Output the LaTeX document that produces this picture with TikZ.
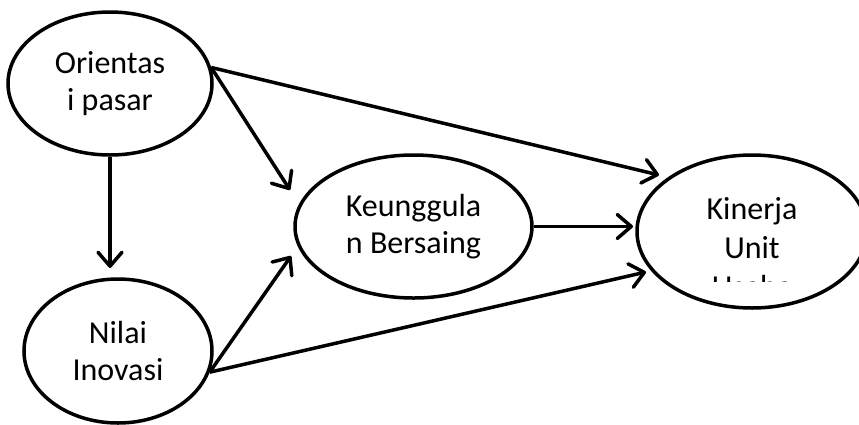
\documentclass[tikz,border=0pt]{standalone}
\usepackage{fontspec}
\setmainfont{Carlito}
\usetikzlibrary{arrows.meta,shapes.geometric}
\begin{document}
\begin{tikzpicture}[x=1pt,y=-1pt,
  oval/.style={ellipse,draw,line width=3.5pt,inner sep=0pt},
  lbl/.style={align=center,font=\fontsize{32}{37.5}\selectfont,inner sep=0pt},
  conn/.style={line width=3.5pt,-{Straight Barb[length=14pt,width=24pt,line cap=round,line join=round]}}]
\useasboundingbox (0,0) rectangle (859,424);
\begin{scope}
\clip (0,0) rectangle (859,424);
\node[oval,lbl,minimum width=204pt,minimum height=143pt] (o) at (110,83.5) {Orientas\\i pasar};
\node[oval,lbl,minimum width=188pt,minimum height=144pt] (n) at (118,351) {Nilai\\Inovasi};
\node[oval,lbl,minimum width=237pt,minimum height=143pt] (k) at (413.5,226.5) {Keunggula\\n Bersaing};
\node[oval,minimum width=230pt,minimum height=153pt] (u) at (752,231.5) {};
\end{scope}
\begin{scope}
\clip (600,150) rectangle (859,281);
\node[lbl,font=\fontsize{32}{39}\selectfont] (ut) at (752,247.5) {Kinerja\\Unit\\Usaha};
\end{scope}
\coordinate (t1) at (659,175);
\coordinate (t2) at (290,190);
\coordinate (t3) at (110,268);
\coordinate (t4) at (291,256);
\coordinate (t5) at (646,272);
\coordinate (t6) at (633,226.5);
\draw[conn] (o.9) -- (t1);
\draw[conn] (o.9) -- (t2);
\draw[conn] (o.south) -- (t3);
\draw[conn] (n.-13) -- (t4);
\draw[conn] (n.-13) -- (t5);
\draw[conn] (k.east) -- (t6);
\end{tikzpicture}
\end{document}
